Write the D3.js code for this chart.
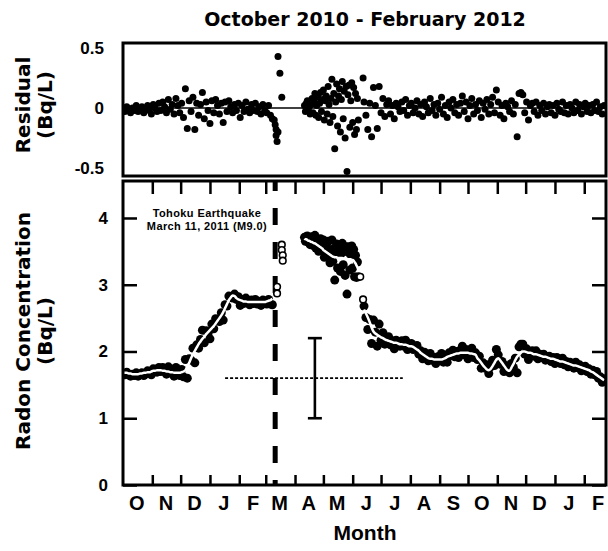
<!DOCTYPE html>
<html>
<head>
<meta charset="utf-8">
<script src="https://cdn.jsdelivr.net/npm/d3@7"></script>
<style>
  body { margin: 0; background: #fff; }
  text { font-family: "Liberation Sans", Arial, sans-serif; font-weight: bold; fill: #000; }
  .dv { font-family: "DejaVu Sans", sans-serif; }
</style>
</head>
<body>
<div id="chart"></div>
<script>
// Radon readings, split in three runs around the Tohoku earthquake gap

// run 1: before the earthquake, one sample every 2 days
const preStart = "2010-10-01";
const preStep = 2;
// smoothed fit (white line), Bq/L
const preFit = [
  1.68, 1.68, 1.68, 1.67, 1.67, 1.66, 1.66, 1.66, 1.66, 1.67,
  1.67, 1.68, 1.68, 1.69, 1.69, 1.70, 1.71, 1.71, 1.72, 1.72,
  1.72, 1.71, 1.71, 1.70, 1.70, 1.69, 1.69, 1.68, 1.68, 1.68,
  1.68, 1.69, 1.70, 1.72, 1.77, 1.83, 1.90, 1.96, 2.01, 2.06,
  2.11, 2.15, 2.19, 2.22, 2.26, 2.29, 2.32, 2.35, 2.38, 2.42,
  2.46, 2.50, 2.54, 2.59, 2.65, 2.71, 2.77, 2.81, 2.84, 2.83,
  2.80, 2.78, 2.77, 2.76, 2.75, 2.75, 2.74, 2.74, 2.74, 2.74,
  2.74, 2.74, 2.74, 2.74, 2.74, 2.74, 2.75, 2.76, 2.77, 2.79
];
// residual = measured - fit
const preResid = [
  -0.01, -0.03, 0.01, -0.02, -0.04, 0.00, -0.02, 0.02, -0.03, -0.01,
  0.01, -0.04, -0.02, 0.02, -0.01, -0.05, 0.03, 0.00, -0.03, 0.04,
  -0.02, 0.05, 0.01, -0.04, 0.07, -0.01, 0.03, -0.05, 0.08, 0.02,
  -0.04, 0.04, -0.08, 0.16, -0.17, 0.06, -0.03, 0.09, -0.18, 0.04,
  -0.06, 0.03, 0.13, -0.09, 0.05, -0.02, -0.13, 0.06, -0.04, 0.07,
  0.02, -0.05, 0.04, -0.12, 0.05, -0.03, 0.06, 0.01, -0.04, 0.03,
  -0.02, 0.04, -0.08, 0.02, -0.03, 0.05, -0.01, -0.04, 0.03, -0.02,
  0.04, -0.03, 0.01, -0.05, 0.03, -0.02, -0.04, 0.02, -0.06, -0.09
];

// run 2: April - early June 2011, daily samples
const springStart = "2011-04-11";
const springStep = 1;
const springFit = [
  3.69, 3.68, 3.68, 3.67, 3.66, 3.66, 3.65, 3.64, 3.64, 3.63,
  3.62, 3.62, 3.61, 3.60, 3.59, 3.58, 3.57, 3.56, 3.55, 3.54,
  3.52, 3.51, 3.50, 3.49, 3.48, 3.47, 3.46, 3.45, 3.44, 3.43,
  3.42, 3.42, 3.41, 3.41, 3.41, 3.40, 3.40, 3.40, 3.40, 3.40,
  3.40, 3.39, 3.39, 3.39, 3.39, 3.39, 3.38, 3.38, 3.38, 3.38,
  3.37, 3.37, 3.36, 3.34, 3.32, 3.29, 3.26, 3.22
];
const springResid = [
  0.02, -0.03, 0.04, 0.06, -0.02, 0.01, -0.05, 0.03, 0.08, -0.04,
  0.05, 0.12, -0.06, 0.02, 0.09, -0.08, 0.04, 0.13, -0.03, 0.07,
  0.15, -0.10, 0.06, 0.10, -0.05, 0.18, 0.03, -0.12, 0.08, 0.24,
  -0.07, 0.12, -0.34, 0.05, 0.20, -0.15, 0.10, 0.16, -0.20, 0.07,
  0.22, -0.09, 0.14, -0.25, 0.18, -0.53, 0.11, 0.19, -0.16, 0.06,
  0.21, -0.12, 0.17, -0.22, 0.12, -0.18, 0.08, -0.10
];

// run 3: mid June 2011 - February 2012, one sample every 2 days
const summerStart = "2011-06-13";
const summerStep = 2;
const summerFit = [
  2.63, 2.57, 2.51, 2.44, 2.36, 2.30, 2.27, 2.25, 2.23, 2.21,
  2.20, 2.18, 2.17, 2.16, 2.15, 2.14, 2.13, 2.13, 2.12, 2.11,
  2.11, 2.10, 2.10, 2.09, 2.08, 2.08, 2.07, 2.05, 2.03, 2.01,
  1.98, 1.96, 1.94, 1.92, 1.90, 1.89, 1.89, 1.88, 1.88, 1.88,
  1.88, 1.88, 1.89, 1.90, 1.92, 1.93, 1.94, 1.95, 1.96, 1.97,
  1.97, 1.98, 1.98, 1.98, 1.98, 1.98, 1.97, 1.97, 1.96, 1.95,
  1.90, 1.87, 1.83, 1.79, 1.76, 1.73, 1.72, 1.74, 1.78, 1.83,
  1.88, 1.90, 1.87, 1.83, 1.79, 1.75, 1.72, 1.71, 1.76, 1.81,
  1.87, 1.92, 1.95, 1.98, 2.00, 2.00, 1.99, 1.98, 1.98, 1.97,
  1.96, 1.96, 1.95, 1.94, 1.93, 1.92, 1.92, 1.91, 1.90, 1.89,
  1.89, 1.88, 1.87, 1.86, 1.85, 1.85, 1.84, 1.83, 1.82, 1.81,
  1.80, 1.79, 1.79, 1.78, 1.77, 1.76, 1.75, 1.74, 1.73, 1.72,
  1.70, 1.69, 1.67, 1.65, 1.63, 1.61, 1.59, 1.57
];
const summerResid = [
  0.05, -0.06, -0.18, 0.04, -0.24, 0.17, 0.02, -0.17, 0.18, -0.04,
  0.08, -0.07, 0.03, 0.06, -0.05, 0.02, -0.09, 0.04, 0.01, -0.03,
  0.05, -0.02, 0.07, -0.06, 0.02, 0.04, -0.04, 0.00, 0.06, -0.05,
  0.03, -0.07, 0.05, 0.01, -0.04, 0.08, -0.02, 0.03, -0.06, 0.04,
  -0.01, 0.09, -0.05, 0.02, -0.08, 0.05, 0.00, 0.07, -0.04, 0.03,
  -0.06, 0.04, 0.10, -0.03, 0.05, -0.09, 0.02, 0.08, -0.05, 0.03,
  -0.02, 0.06, -0.08, 0.04, -0.01, 0.07, -0.05, 0.03, 0.09, -0.04,
  0.15, 0.05, -0.06, 0.02, -0.09, 0.04, 0.01, -0.03, 0.06, -0.05,
  0.03, -0.24, 0.12, 0.13, 0.11, -0.04, 0.05, -0.10, 0.02, 0.04,
  -0.03, 0.05, -0.06, 0.02, -0.02, 0.04, -0.05, 0.01, 0.03, -0.04,
  0.02, -0.06, 0.04, -0.01, -0.03, 0.05, -0.04, 0.02, -0.05, 0.03,
  0.00, -0.04, 0.05, -0.02, 0.03, -0.05, 0.01, 0.04, -0.03, 0.02,
  -0.04, 0.03, -0.02, 0.05, -0.03, 0.01, -0.05, 0.02
];

// residuals of readings outside the fitted runs (earthquake days, early June)
const extraResidDates = ["2011-03-10", "2011-03-11", "2011-03-12", "2011-03-12", "2011-03-13",
  "2011-03-14", "2011-03-14", "2011-03-16", "2011-03-18", "2011-06-12"];
const extraResid = [-0.10, -0.14, -0.18, -0.23, -0.28, -0.20, 0.43, 0.29, 0.09, 0.25];

// readings left out of the fit (open markers)
const openDates = ["2011-03-13", "2011-03-13", "2011-03-18", "2011-03-18", "2011-03-19",
  "2011-03-19", "2011-06-09", "2011-06-12"];
const openValues = [2.97, 2.87, 3.60, 3.52, 3.44, 3.36, 3.12, 2.78];

const quakeDate = "2011-03-11";
const baselineValue = 1.6;
const baselineDates = ["2011-01-17", "2011-07-24"];
const errorDate = "2011-04-22";
const errorRange = [1.0, 2.2];

const monthLabels = ["O", "N", "D", "J", "F", "M", "A", "M", "J", "J", "A", "S", "O", "N", "D", "J", "F"];
const residTicks = [-0.5, 0, 0.5];
const radonTicks = [0, 1, 2, 3, 4];

const parse = d3.utcParse("%Y-%m-%d");

function series(start, step, fit, resid) {
  const t0 = parse(start);
  return fit.map((f, i) => ({
    date: d3.utcDay.offset(t0, i * step),
    fit: f,
    resid: resid[i],
    value: f + resid[i]
  }));
}
const runs = [
  series(preStart, preStep, preFit, preResid),
  series(springStart, springStep, springFit, springResid),
  series(summerStart, summerStep, summerFit, summerResid)
];
const all = runs.flat();

// layout
const left = 123, right = 606;
const resTop = 43, resBottom = 176;
const radTop = 181, radBottom = 485;

const svg = d3.select("#chart").append("svg")
  .attr("width", 608)
  .attr("height", 551);

const x = d3.scaleUtc()
  .domain([parse("2010-10-01"), parse("2012-02-24")])
  .range([left, right]);
const yRes = d3.scaleLinear().domain([-0.567, 0.542]).range([resBottom, resTop]);
const yRad = d3.scaleLinear().domain([0, 4.554]).range([radBottom, radTop]);

const defs = svg.append("defs");
defs.append("clipPath").attr("id", "clipRes").append("rect")
  .attr("x", left).attr("y", resTop).attr("width", right - left).attr("height", resBottom - resTop);
defs.append("clipPath").attr("id", "clipRad").append("rect")
  .attr("x", left).attr("y", radTop).attr("width", right - left).attr("height", radBottom - radTop);

// title
svg.append("text")
  .attr("class", "dv")
  .attr("x", 365).attr("y", 26)
  .attr("text-anchor", "middle")
  .style("font-size", "19px")
  .text("October 2010 - February 2012");

// ---------- residual panel ----------
const gRes = svg.append("g").attr("clip-path", "url(#clipRes)");

gRes.append("line")
  .attr("x1", left).attr("x2", right)
  .attr("y1", yRes(0)).attr("y2", yRes(0))
  .attr("stroke", "#000").attr("stroke-width", 1.5);

gRes.selectAll(".rdot")
  .data(all)
  .enter().append("circle")
  .attr("class", "rdot")
  .attr("cx", d => x(d.date))
  .attr("cy", d => yRes(d.resid))
  .attr("r", 3.5)
  .attr("fill", "#000");

gRes.selectAll(".xdot")
  .data(extraResidDates.map((d, i) => ({ date: parse(d), resid: extraResid[i] })))
  .enter().append("circle")
  .attr("class", "xdot")
  .attr("cx", d => x(d.date))
  .attr("cy", d => yRes(d.resid))
  .attr("r", 3.5)
  .attr("fill", "#000");

const resAxis = svg.append("g")
  .attr("transform", "translate(" + left + ",0)")
  .call(d3.axisLeft(yRes).tickValues(residTicks).tickSize(0).tickPadding(19)
    .tickFormat(d => String(d)))
  .call(g => g.select(".domain").remove());
resAxis.selectAll("text").attr("font-family", null).attr("font-size", null).style("font-size", "17px");

svg.append("rect")
  .attr("x", left).attr("y", resTop)
  .attr("width", right - left).attr("height", resBottom - resTop)
  .attr("fill", "none").attr("stroke", "#000").attr("stroke-width", 3);

// ---------- radon panel ----------
const gRad = svg.append("g").attr("clip-path", "url(#clipRad)");

gRad.selectAll(".dot")
  .data(all)
  .enter().append("circle")
  .attr("class", "dot")
  .attr("cx", d => x(d.date))
  .attr("cy", d => yRad(d.value))
  .attr("r", 4.5)
  .attr("fill", "#000");

const fitLine = d3.line()
  .x(d => x(d.date))
  .y(d => yRad(d.fit))
  .curve(d3.curveMonotoneX);

runs.forEach(s => {
  gRad.append("path")
    .datum(s)
    .attr("d", fitLine)
    .attr("fill", "none")
    .attr("stroke", "#fff")
    .attr("stroke-width", 2.5);
});

// earthquake marker
gRad.append("line")
  .attr("x1", x(parse(quakeDate))).attr("x2", x(parse(quakeDate)))
  .attr("y1", radTop).attr("y2", radBottom)
  .attr("stroke", "#000").attr("stroke-width", 5)
  .attr("stroke-dasharray", "17,17")
  .attr("stroke-dashoffset", 7);

gRad.selectAll(".open")
  .data(openDates.map((d, i) => ({ date: parse(d), value: openValues[i] })))
  .enter().append("circle")
  .attr("class", "open")
  .attr("cx", d => x(d.date))
  .attr("cy", d => yRad(d.value))
  .attr("r", 3.3)
  .attr("fill", "#fff")
  .attr("stroke", "#000")
  .attr("stroke-width", 1.6);

// pre-earthquake baseline and its spread
gRad.append("line")
  .attr("x1", x(parse(baselineDates[0]))).attr("x2", x(parse(baselineDates[1])))
  .attr("y1", yRad(baselineValue)).attr("y2", yRad(baselineValue))
  .attr("stroke", "#000").attr("stroke-width", 1.8)
  .attr("stroke-dasharray", "3,2");

const ex = x(parse(errorDate));
const eb = gRad.append("g").attr("stroke", "#000").attr("stroke-width", 2.6);
eb.append("line").attr("x1", ex).attr("x2", ex)
  .attr("y1", yRad(errorRange[0])).attr("y2", yRad(errorRange[1]));
errorRange.forEach(v => {
  eb.append("line").attr("x1", ex - 7).attr("x2", ex + 7)
    .attr("y1", yRad(v)).attr("y2", yRad(v));
});

// annotation
const note = svg.append("text")
  .attr("text-anchor", "middle")
  .style("font-size", "11px")
  .style("letter-spacing", "0.4px");
note.append("tspan").attr("x", 207).attr("y", 217).text("Tohoku Earthquake");
note.append("tspan").attr("x", 207).attr("y", 230).text("March 11, 2011 (M9.0)");

// axes
const monthStarts = d3.utcMonth.range(parse("2010-11-01"), parse("2012-02-24"));
const monthMids = d3.utcMonth.range(parse("2010-10-01"), parse("2012-02-24"))
  .map(d => d3.utcDay.offset(d, 14));

svg.append("g")
  .attr("transform", "translate(0," + radBottom + ")")
  .call(d3.axisBottom(x).tickValues(monthStarts).tickSize(-10).tickSizeOuter(0).tickFormat(""))
  .call(g => g.select(".domain").remove())
  .selectAll("line").attr("stroke-width", 2.5);

svg.append("g")
  .attr("transform", "translate(0," + radTop + ")")
  .call(d3.axisTop(x).tickValues(monthStarts).tickSize(-13).tickSizeOuter(0).tickFormat(""))
  .call(g => g.select(".domain").remove())
  .selectAll("line").attr("stroke-width", 2.5);

const monthAxis = svg.append("g")
  .attr("transform", "translate(0," + radBottom + ")")
  .call(d3.axisBottom(x).tickValues(monthMids).tickSize(0).tickPadding(11)
    .tickFormat((d, i) => monthLabels[i]))
  .call(g => g.select(".domain").remove());
monthAxis.selectAll("text").attr("font-family", null).attr("font-size", null).style("font-size", "20px");

const yAxisL = svg.append("g")
  .attr("transform", "translate(" + left + ",0)")
  .call(d3.axisLeft(yRad).tickValues(radonTicks).tickSize(-14).tickSizeOuter(0).tickPadding(15)
    .tickFormat(d3.format("d")))
  .call(g => g.select(".domain").remove());
yAxisL.selectAll("line").attr("stroke-width", 2.5);
yAxisL.selectAll("text").attr("font-family", null).attr("font-size", null).style("font-size", "17px");

svg.append("g")
  .attr("transform", "translate(" + right + ",0)")
  .call(d3.axisRight(yRad).tickValues(radonTicks).tickSize(-14).tickSizeOuter(0).tickFormat(""))
  .call(g => g.select(".domain").remove())
  .selectAll("line").attr("stroke-width", 2.5);

svg.append("rect")
  .attr("x", left).attr("y", radTop)
  .attr("width", right - left).attr("height", radBottom - radTop)
  .attr("fill", "none").attr("stroke", "#000").attr("stroke-width", 3);

// axis titles
svg.append("text")
  .attr("x", 365).attr("y", 540)
  .attr("text-anchor", "middle")
  .style("font-size", "21px")
  .text("Month");

function yTitle(lines, cy) {
  lines.forEach((t, i) => {
    svg.append("text")
      .attr("class", "dv")
      .attr("transform", "translate(" + (23 + i * 22) + "," + cy + ") rotate(-90)")
      .attr("text-anchor", "middle")
      .attr("dy", "0.36em")
      .style("font-size", "20px")
      .text(t);
  });
}
yTitle(["Residual", "(Bq/L)"], 105);
yTitle(["Radon Concentration", "(Bq/L)"], 331);
</script>
</body>
</html>
